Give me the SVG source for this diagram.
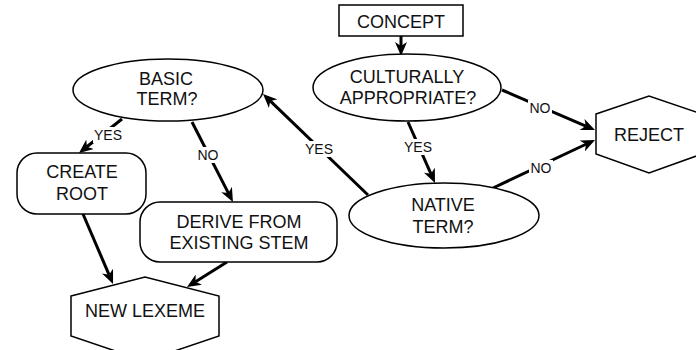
<svg xmlns="http://www.w3.org/2000/svg" width="696" height="350" viewBox="0 0 696 350">
<style>
.node{fill:#fff;stroke:#000;stroke-width:1.5}
.t{font-family:"Liberation Sans",Arial,Helvetica,sans-serif;font-size:18px;fill:#111;text-anchor:middle}
.lbl{font-family:"Liberation Sans",Arial,Helvetica,sans-serif;font-size:14px;fill:#111;text-anchor:middle}
.bg{fill:#fff;stroke:none}
.e{fill:none;stroke:#000;stroke-width:3;marker-end:url(#arr)}
</style>
<defs>
<marker id="arr" markerUnits="userSpaceOnUse" markerWidth="14" markerHeight="12" refX="4" refY="6" orient="auto" viewBox="0 0 14 12">
<path d="M0,0 L14,6 L0,12 L4,6 Z" fill="#000"/>
</marker>
</defs>
<g id="connectors">
<line class="e" x1="401" y1="36" x2="401" y2="46"/>
<line class="e" x1="502" y1="90" x2="585.8" y2="126.05"/>
<line class="e" x1="493" y1="188" x2="585.95" y2="144.26"/>
<line class="e" x1="408" y1="122" x2="430.95" y2="173.85"/>
<line class="e" x1="368" y1="195" x2="270.2" y2="100.9"/>
<line class="e" x1="122" y1="119" x2="86.85" y2="146.8"/>
<line class="e" x1="192" y1="122" x2="228.4" y2="193.1"/>
<line class="e" x1="83" y1="214" x2="109.1" y2="274.8"/>
<line class="e" x1="227" y1="262" x2="195.5" y2="281.7"/>
<rect class="bg" x="528" y="100" width="24" height="16"/>
<text class="lbl" x="540" y="113">NO</text>
<rect class="bg" x="529" y="160" width="24" height="16"/>
<text class="lbl" x="541" y="173">NO</text>
<rect class="bg" x="403" y="139" width="30" height="16"/>
<text class="lbl" x="418" y="152">YES</text>
<rect class="bg" x="304" y="141" width="30" height="16"/>
<text class="lbl" x="319" y="154">YES</text>
<rect class="bg" x="93" y="127" width="30" height="16"/>
<text class="lbl" x="108" y="140">YES</text>
<rect class="bg" x="196" y="147" width="24" height="16"/>
<text class="lbl" x="208" y="160">NO</text>
</g>
<g id="concept">
<rect class="node" x="339" y="5" width="124" height="31"/>
<text class="t" x="401" y="28">CONCEPT</text>
</g>
<g id="culturally">
<ellipse class="node" cx="407" cy="87.5" rx="94" ry="33.5"/>
<text class="t" x="407" y="83">CULTURALLY</text>
<text class="t" x="408" y="104">APPROPRIATE?</text>
</g>
<g id="reject">
<polygon class="node" points="596,114 649,96 702,114 702,154 649,173 596,154"/>
<text class="t" x="649" y="141">REJECT</text>
</g>
<g id="basic">
<ellipse class="node" cx="168" cy="90" rx="95" ry="31"/>
<text class="t" x="166" y="85">BASIC</text>
<text class="t" x="167" y="105">TERM?</text>
</g>
<g id="native">
<ellipse class="node" cx="444" cy="215.5" rx="95" ry="32.5"/>
<text class="t" x="443" y="211">NATIVE</text>
<text class="t" x="443" y="233">TERM?</text>
</g>
<g id="create">
<rect class="node" x="17" y="153" width="129" height="61" rx="20"/>
<text class="t" x="82" y="178">CREATE</text>
<text class="t" x="82" y="200">ROOT</text>
</g>
<g id="derive">
<rect class="node" x="140" y="202" width="197" height="60" rx="20"/>
<text class="t" x="239" y="228">DERIVE FROM</text>
<text class="t" x="239" y="249">EXISTING STEM</text>
</g>
<g id="lexeme">
<polygon class="node" points="71,296 145,277 219,296 219,336 145,361 71,336"/>
<text class="t" x="145" y="317">NEW LEXEME</text>
</g>
</svg>
